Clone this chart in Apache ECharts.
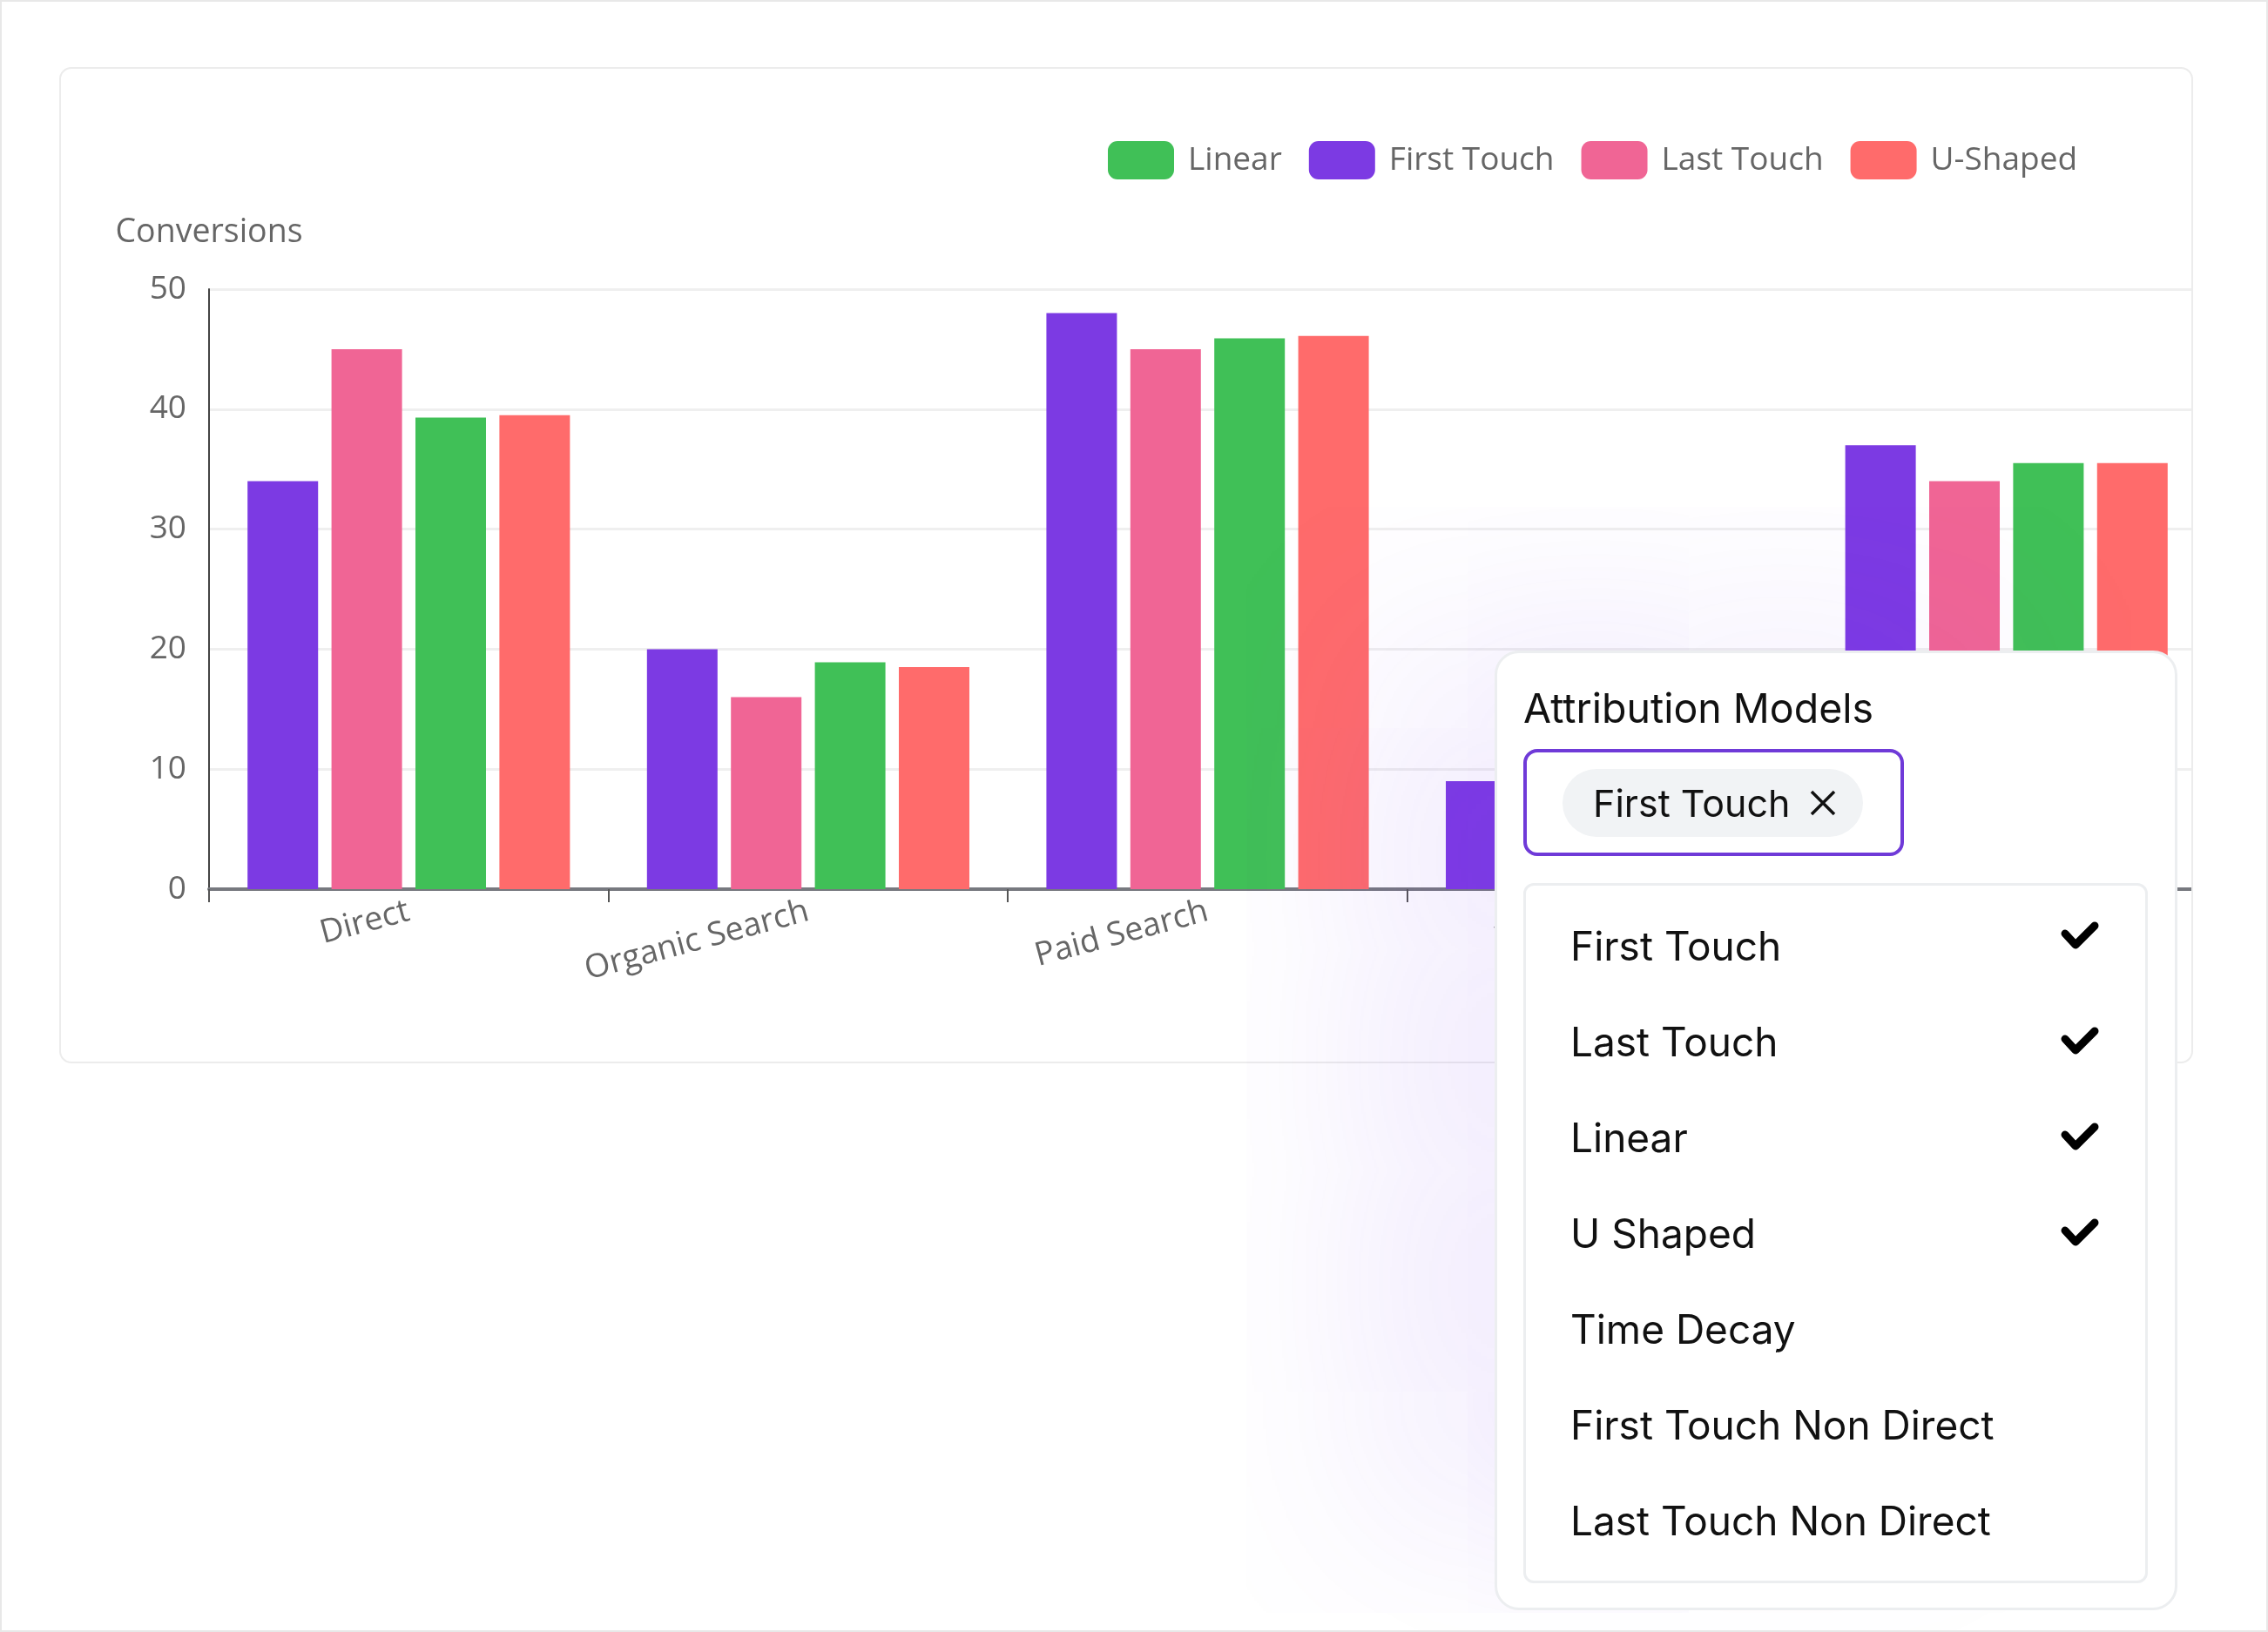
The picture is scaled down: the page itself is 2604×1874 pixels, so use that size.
<!DOCTYPE html>
<html>
<head>
<meta charset="utf-8">
<title>Attribution Models</title>
<script src="https://cdn.jsdelivr.net/npm/echarts@6/dist/echarts.min.js"></script>
<style>
    html, body { margin: 0; padding: 0; background: #fff; }
    #page { position: relative; width: 2604px; height: 1874px; overflow: hidden; box-sizing: border-box; border: 2px solid #e8e8e8; }
    #card { position: absolute; left: 66px; top: 75px; width: 2450px; height: 1144px; box-sizing: border-box; border: 2px solid #ececec; border-radius: 14px; overflow: hidden; background: #fff; }
    #chart { position: absolute; left: 0; top: 0; width: 2446px; height: 1140px; }
    #panel { position: absolute; left: 1714px; top: 745px; width: 784px; height: 1102px; box-sizing: border-box; background: #fff; border: 3px solid #eceef0; border-radius: 28px; box-shadow: -170px -50px 280px -50px rgba(124, 58, 237, 0.13); font-family: Inter, sans-serif; color: #111; }
    #panel .title { position: absolute; left: 30px; top: 33px; font-size: 46.5px; line-height: 60px; white-space: nowrap; }
    #selected { position: absolute; left: 30px; top: 110px; width: 437px; height: 123px; box-sizing: border-box; border: 4px solid #6f3ad8; border-radius: 16px; }
    #chip { position: absolute; left: 41px; top: 19px; width: 345px; height: 78px; border-radius: 39px; background: #f1f3f5; }
    #chip span { position: absolute; left: 35px; top: 9px; font-size: 43px; line-height: 60px; white-space: nowrap; }
    #chip svg { position: absolute; left: 284px; top: 24px; }
    #list { position: absolute; left: 30px; top: 264px; width: 717px; height: 804px; box-sizing: border-box; border: 3px solid #eceef0; border-radius: 12px; }
    #list .row { position: absolute; left: 51px; font-size: 46px; line-height: 60px; white-space: nowrap; }
    #list svg { position: absolute; left: 613px; }
</style>
</head>
<body>
<div id="page">
    <div id="card"><div id="chart"></div></div>
    <div id="panel">
        <div class="title">Attribution Models</div>
        <div id="selected"><div id="chip"><span>First Touch</span>
            <svg width="30" height="30" viewBox="0 0 30 30"><path d="M2 2L28 28M28 2L2 28" stroke="#111" stroke-width="3.5" fill="none"/></svg>
        </div></div>
        <div id="list"></div>
    </div>
</div>
<script>
var categories = ['Direct', 'Organic Search', 'Paid Search', 'Wechat', 'Email'];
var firstTouch = [34, 20, 48, 9, 37];
var lastTouch = [45, 16, 45, 7, 34];
var linear = [39.3, 18.9, 45.9, 8, 35.5];
var uShaped = [39.5, 18.5, 46.1, 8, 35.5];
var legendNames = ['Linear', 'First Touch', 'Last Touch', 'U-Shaped'];
var modelNames = ['First Touch', 'Last Touch', 'Linear', 'U Shaped', 'Time Decay', 'First Touch Non Direct', 'Last Touch Non Direct'];
var checkedModels = ['First Touch', 'Last Touch', 'Linear', 'U Shaped'];

var axisFont = '"Open Sans", sans-serif';

function barSeries(name, data, color) {
    return {
        name: name,
        type: 'bar',
        data: data,
        barWidth: 81,
        barGap: '19%',
        itemStyle: {color: color}
    };
}

var option = {
    animation: false,
    legend: {
        data: legendNames,
        left: 1197,
        top: 78,
        itemWidth: 76,
        itemHeight: 44,
        itemGap: 31,
        icon: 'roundRect',
        textStyle: {fontFamily: axisFont, fontSize: 37, color: '#666', padding: [0, 0, 0, 11]}
    },
    grid: {
        left: 170,
        top: 253,
        width: 2293,
        height: 689,
        containLabel: false,
        outerBoundsMode: 'none'
    },
    xAxis: {
        type: 'category',
        data: categories,
        axisLine: {lineStyle: {color: '#77797f', width: 4}},
        axisTick: {show: true, length: 15, lineStyle: {color: '#555', width: 2}},
        axisLabel: {rotate: 15, margin: 25, interval: 0, fontFamily: axisFont, fontSize: 37.5, color: '#666'}
    },
    yAxis: {
        type: 'value',
        min: 0,
        max: 50,
        interval: 10,
        name: 'Conversions',
        nameGap: 46,
        nameTextStyle: {fontFamily: axisFont, fontSize: 37.5, color: '#666'},
        axisLine: {show: true, lineStyle: {color: '#444', width: 2}},
        axisTick: {show: false},
        axisLabel: {margin: 26, fontFamily: axisFont, fontSize: 37, color: '#666'},
        splitLine: {lineStyle: {color: '#efefef', width: 3}}
    },
    series: [
        barSeries('First Touch', firstTouch, '#7c3ae3'),
        barSeries('Last Touch', lastTouch, '#f06595'),
        barSeries('Linear', linear, '#40c057'),
        barSeries('U-Shaped', uShaped, '#ff6b6b')
    ]
};

var chart = echarts.init(document.getElementById('chart'));
chart.setOption(option);

// panel rows, checks sit a little off the text on the first row like the screenshot
var list = document.getElementById('list');
for (var i = 0; i < modelNames.length; i++) {
    var rowTop = 39 + i * 110;
    var row = document.createElement('div');
    row.className = 'row';
    row.style.top = rowTop + 'px';
    row.textContent = modelNames[i];
    list.appendChild(row);
    if (checkedModels.indexOf(modelNames[i]) >= 0) {
        var checkTop = rowTop + 12 - (i === 0 ? 11 : 0);
        var svg = document.createElementNS('http://www.w3.org/2000/svg', 'svg');
        svg.setAttribute('width', '46');
        svg.setAttribute('height', '36');
        svg.setAttribute('viewBox', '0 0 46 36');
        svg.style.top = checkTop + 'px';
        svg.innerHTML = '<path d="M6 15L18 28L40 6" stroke="#000" stroke-width="9" stroke-linecap="round" stroke-linejoin="round" fill="none"/>';
        list.appendChild(svg);
    }
}
</script>
</body>
</html>
